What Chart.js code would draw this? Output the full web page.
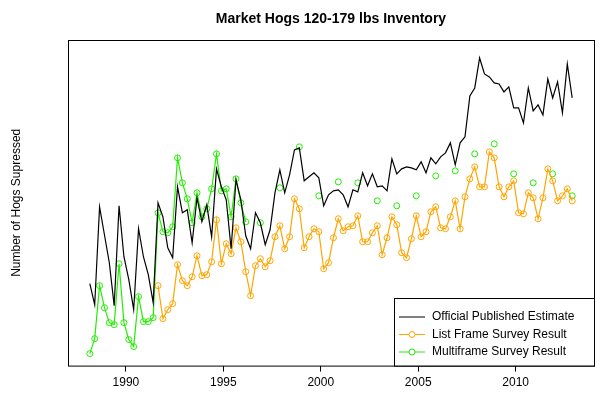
<!DOCTYPE html>
<html lang="en">
<head>
<meta charset="UTF-8">
<title>Market Hogs 120-179 lbs Inventory</title>
<style>
  body { margin: 0; background: white; }
  canvas { display: block; }
</style>
</head>
<body>
<canvas id="chart" width="599" height="406"></canvas>
<script src="https://cdn.jsdelivr.net/npm/chart.js"></script>
<script>
// quarterly series, first quarter ~1988.15; values are in screen-units (larger = lower)
const startYear = 1988.15;
const official = [284,305,207,235,263,306,206,257,280,310,
  229,257,275,303,203,217,248,258,187,213,
  210,243,198,222,205,237,169,187,200,249,
  180,200,236,249,213,223,245,230,193,170,
  193,175,150,148,181,177,173,178,206,195,
  191,190,195,207,190,192,173,186,174,187,
  186,191,159,174,169,167,168,170,162,173,
  158,164,157,153,143,165,143,137,96,88,
  58,74,77,83,84,92,87,108,108,123,
  88,111,105,115,79,98,82,113,64,98];
// list frame survey starts at quarter index 14
const listStart = 14;
const listFrame = [286,319,310,304,265,281,286,277,256,276,
  275,262,220,264,244,254,228,242,272,296,
  266,259,267,261,237,226,249,237,199,209,
  248,237,229,232,269,263,238,219,231,227,
  226,216,242,242,233,226,255,238,217,225,
  253,258,239,216,237,232,212,207,228,229,
  217,201,229,197,179,167,187,187,152,158,
  187,197,187,181,213,214,193,198,219,198,
  169,181,201,196,189,201];
// multiframe: quarterly through index 32, then annual points
const multiQuarterly = [354,339,286,308,323,325,264,323,340,347,
  297,322,322,318,213,232,233,227,158,183,
  199,223,193,217,209,189,154,191,189,217,
  179,203,222];
const multiAnnualIdx = [35,39,43,47,51,55,59,63,67,71,75,79,83,87,91,95,99];
const multiAnnual = [223,188,147,196,182,183,201,206,196,176,171,154,144,174,183,174,196];
const xTicks = [1990, 1995, 2000, 2005, 2010];

const yr = i => startYear + i * 0.25;
const offData = official.map((v, i) => ({ x: yr(i), y: v }));
const listData = listFrame.map((v, i) => ({ x: yr(i + listStart), y: v }));
const multiData = official.map((_, i) => ({ x: yr(i), y: null }));
multiQuarterly.forEach((v, i) => { multiData[i].y = v; });
multiAnnualIdx.forEach((idx, k) => { multiData[idx].y = multiAnnual[k]; });

const frame = {
  id: 'frame',
  afterDraw(chart) {
    const { ctx, chartArea: a } = chart;
    ctx.save();
    ctx.strokeStyle = '#000';
    ctx.lineWidth = 1;
    ctx.strokeRect(a.left + 0.5, a.top + 0.5, a.right - a.left, a.bottom - a.top);
    // title
    ctx.fillStyle = '#000';
    ctx.font = 'bold 14px "Liberation Sans", Arial';
    ctx.textAlign = 'center';
    ctx.fillText('Market Hogs 120-179 lbs Inventory', (a.left + a.right) / 2, 23);
    // y title
    ctx.font = '12px "Liberation Sans", Arial';
    ctx.translate(20, (a.top + a.bottom) / 2);
    ctx.rotate(-Math.PI / 2);
    ctx.fillText('Number of Hogs Supressed', 0, 0);
    ctx.restore();
    // legend
    ctx.save();
    const lx = 394, ly = 298, lw = a.right - lx, lh = a.bottom - ly;
    ctx.fillStyle = '#fff';
    ctx.fillRect(lx, ly, lw, lh);
    ctx.strokeStyle = '#000';
    ctx.strokeRect(lx + 0.5, ly + 0.5, lw, lh);
    const items = [['Official Published Estimate', '#000', false],
                   ['List Frame Survey Result', '#ffa500', true],
                   ['Multiframe Survey Result', '#22ee00', true]];
    ctx.font = '12px "Liberation Sans", Arial';
    ctx.textBaseline = 'middle';
    items.forEach(([label, col, pt], k) => {
      const y = ly + 19 + k * 17.5;
      ctx.strokeStyle = col;
      ctx.beginPath(); ctx.moveTo(lx + 5, y); ctx.lineTo(lx + 31, y); ctx.stroke();
      if (pt) { ctx.beginPath(); ctx.arc(lx + 18, y, 3, 0, Math.PI * 2); ctx.fillStyle = '#fff'; ctx.fill(); ctx.stroke(); }
      ctx.fillStyle = '#000';
      ctx.fillText(label, lx + 38, y);
    });
    ctx.restore();
  }
};

new Chart(document.getElementById('chart'), {
  type: 'line',
  data: {
    datasets: [
      { data: offData, borderColor: '#000', borderWidth: 1.2, pointRadius: 0, tension: 0 },
      { data: listData, borderColor: '#ffa500', borderWidth: 1.2, pointRadius: 3,
        pointBackgroundColor: 'rgba(0,0,0,0)', pointBorderColor: '#ffa500', pointBorderWidth: 1, tension: 0 },
      { data: multiData, borderColor: '#22ee00', borderWidth: 1.2, pointRadius: 3, spanGaps: false,
        pointBackgroundColor: 'rgba(0,0,0,0)', pointBorderColor: '#22ee00', pointBorderWidth: 1, tension: 0 }
    ]
  },
  options: {
    responsive: false,
    animation: false,
    layout: { padding: { left: 68, top: 40, right: 2, bottom: 12 } },
    plugins: { legend: { display: false }, tooltip: { enabled: false } },
    scales: {
      x: {
        type: 'linear', min: 1987.03, max: 2014.02,
        afterBuildTicks: ax => { ax.ticks = xTicks.map(v => ({ value: v })); },
        ticks: { color: '#000', font: { size: 12, family: '"Liberation Sans", Arial' }, padding: 4,
                 callback: v => String(v) },
        grid: { drawOnChartArea: false, drawTicks: true, tickLength: 6, color: '#000' },
        border: { display: false }
      },
      y: { display: false, reverse: true, min: 40, max: 366 }
    }
  },
  plugins: [frame]
});
</script>
</body>
</html>
